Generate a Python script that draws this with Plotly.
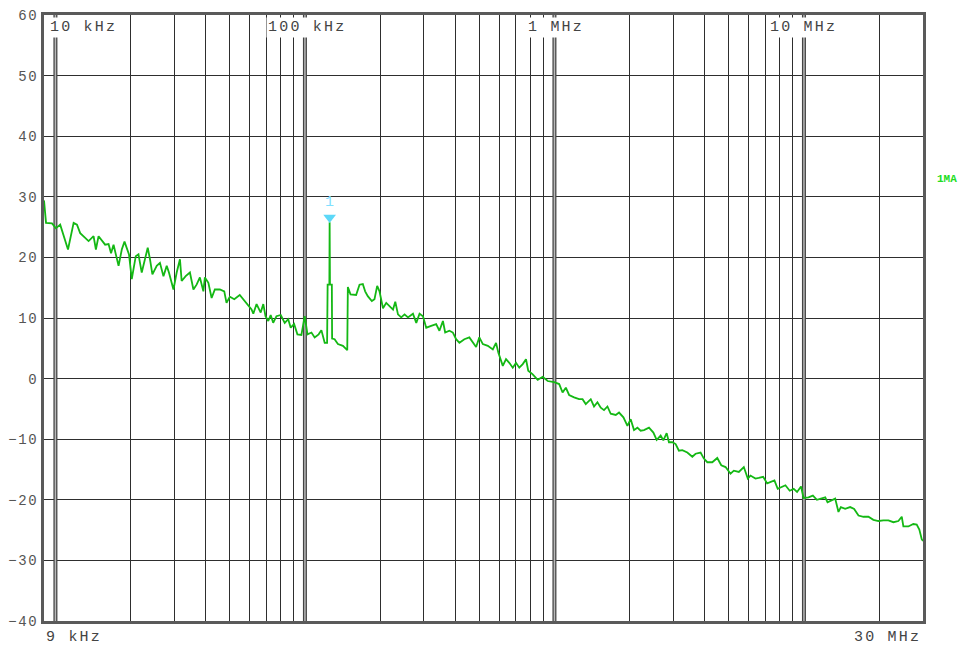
import math
import plotly.graph_objects as go

# ---------------- data ----------------
freq_khz = [
    9.0, 9.17, 9.69, 10.05, 10.45, 11.23, 11.83, 12.2, 12.57, 13.58,
    14.22, 14.53, 14.89, 15.82, 16.33, 16.71, 17.10, 17.91, 18.45, 18.92,
    19.72, 20.23, 20.99, 21.52, 22.18, 23.44, 23.93, 24.47, 25.47, 26.24,
    27.1, 27.93, 28.51, 29.72, 30.62, 31.56, 32.06, 33.27, 34.6, 35.73,
    36.8, 37.93, 39.17, 39.72, 41.02, 42.27, 43.55, 45.6, 47.5, 48.5,
    50.0, 52.1, 54.8, 57.4, 61.1, 62.1, 64.0, 66.5, 68.1, 69.5,
    71.3, 72.9, 74.6, 76.9, 80.0, 83.0, 85.7, 87.7, 90.5, 93.3,
    96.8, 99.8, 102.4, 106.2, 109.4, 113.5, 116.4, 120.0, 122.7, 123.3,
    125.3, 125.6, 126.0, 128.2, 128.5, 131.5, 135.6, 142.0, 147.8, 148.6,
    152.3, 160.4, 165.5, 170.6, 174.3, 178.6, 185.4, 190.0, 194.8, 199.0,
    205.5, 211.8, 218.3, 225.4, 230.2, 236.0, 243.2, 250.8, 258.8, 271.0,
    279.4, 288.0, 297.2, 306.3, 320.6, 335.7, 346.0, 357.3, 364.8, 379.3,
    391.7, 403.6, 416.0, 435.5, 456.0, 470.9, 485.3, 500.0, 516.4, 540.8,
    566.2, 583.4, 595.7, 620.9, 639.7, 659.2, 680.8, 701.5, 722.8, 746.4,
    769.1, 785.2, 818.4, 857.0, 897.4, 939.7, 997, 1045, 1078, 1111,
    1145, 1199, 1255, 1296, 1335, 1398, 1441, 1487, 1533, 1580,
    1631, 1681, 1761, 1815, 1890, 1961, 2021, 2084, 2150, 2216,
    2285, 2393, 2492, 2569, 2665, 2732, 2817, 2877, 2968, 3060,
    3154, 3255, 3408, 3569, 3679, 3852, 3972, 4099, 4291, 4494,
    4662, 4851, 5079, 5236, 5482, 5741, 5956, 6105, 6393, 6590,
    6863, 7120, 7340, 7615, 7850, 8175, 8427, 8767, 9096, 9385,
    9736, 9963, 10430, 10860, 11270, 11700, 12170, 12430, 12940, 13340,
    13750, 14060, 14630, 15320, 15890, 16540, 17320, 18130, 18980, 19880,
    20820, 21800, 22830, 23900, 24660, 25030, 26210, 27440, 28310, 29000,
    29650, 30000,
]
level_db = [
    29.4, 25.7, 25.6, 24.8, 25.4, 21.3, 25.7, 25.4, 24.0, 22.7,
    23.5, 21.3, 23.5, 22.1, 22.2, 20.7, 22.1, 18.6, 21.3, 22.6,
    20.5, 16.4, 20.2, 20.5, 17.5, 21.6, 19.7, 17.2, 18.6, 19.1,
    16.9, 18.6, 17.5, 14.7, 17.5, 19.7, 16.1, 16.9, 17.5, 14.7,
    15.5, 16.7, 14.4, 16.7, 15.8, 13.3, 14.7, 14.7, 14.4, 12.5,
    13.5, 13.1, 13.8, 12.8, 11.4, 10.7, 12.3, 10.9, 12.3, 10.3,
    9.5, 10.5, 9.2, 10.3, 10.5, 9.2, 9.8, 8.4, 9.0, 7.3,
    7.2, 10.3, 7.3, 7.6, 6.8, 7.3, 8.0, 5.9, 5.9, 15.5,
    15.5, 25.8, 15.5, 15.5, 6.6, 6.5, 5.7, 5.4, 4.7, 15.1,
    13.9, 13.8, 15.5, 15.6, 14.4, 13.6, 12.8, 13.1, 15.3, 14.4,
    11.6, 12.5, 12.0, 11.4, 12.7, 10.6, 10.1, 10.6, 10.1, 10.7,
    9.2, 10.7, 10.3, 8.4, 8.7, 9.0, 7.9, 9.5, 7.6, 7.9,
    7.6, 6.5, 5.9, 6.5, 6.8, 5.9, 5.2, 6.8, 5.7, 5.4,
    4.8, 5.9, 4.3, 2.1, 3.2, 2.6, 1.8, 2.6, 1.8, 2.4,
    3.2, 1.3, 0.7, -0.2, 0.3, -0.4, -0.6, -0.9, -2.3, -1.5,
    -2.7, -3.1, -3.4, -3.4, -4.2, -3.4, -4.6, -3.9, -4.8, -5.2,
    -4.6, -5.8, -6.0, -5.6, -6.4, -7.8, -6.7, -8.5, -8.1, -8.6,
    -8.5, -8.1, -8.9, -10.1, -9.4, -10.2, -9.0, -10.5, -10.5, -10.8,
    -11.9, -11.8, -12.2, -12.9, -12.4, -12.2, -13.2, -13.8, -13.8, -13.1,
    -14.3, -14.6, -15.7, -15.2, -15.4, -14.6, -16.5, -16.0, -16.5, -16.4,
    -16.2, -17.3, -17.1, -16.8, -18.2, -17.8, -17.6, -18.5, -18.2, -18.7,
    -17.8, -19.7, -19.6, -19.3, -20.0, -19.8, -19.6, -20.4, -20.1, -19.8,
    -22.0, -21.2, -21.5, -21.2, -21.5, -22.6, -22.8, -22.8, -23.3, -23.5,
    -23.4, -23.4, -23.7, -23.5, -22.8, -24.4, -24.4, -24.0, -24.1, -24.9,
    -26.5, -26.8,
]
assert len(freq_khz) == len(level_db)

marker_khz = 125.6
marker_db = 25.8
marker_label = "1"

f_start_hz = 9e3
f_stop_hz = 30e6
y_ticks = [60, 50, 40, 30, 20, 10, 0, -10, -20, -30, -40]
decades_hz = [1e4, 1e5, 1e6, 1e7]
decade_labels = ["10 kHz", "100 kHz", "1 MHz", "10 MHz"]
start_label = "9 kHz"
stop_label = "30 MHz"
trace_label = "1MA"

# ---------------- build ----------------
MONO = "Liberation Mono, Courier New, monospace"
TRACE_GREEN = "#14b814"
CYAN = "#5cd8f8"

freq_hz = [f * 1e3 for f in freq_khz]

minor_grid = []
for d in decades_hz:
    for m in range(2, 10):
        v = d * m
        if v < f_stop_hz:
            minor_grid.append(v)

def spaced(t, ls):
    return '<span style="letter-spacing:%spx">%s</span>' % (ls, t)

fig = go.Figure()

# decade double lines
dx, dy = [], []
for d in decades_hz:
    dx += [d, d, None]
    dy += [-40, 60, None]
fig.add_trace(go.Scatter(x=dx, y=dy, mode="lines",
                         line=dict(color="#444444", width=4),
                         hoverinfo="skip", showlegend=False))
fig.add_trace(go.Scatter(x=dx, y=dy, mode="lines",
                         line=dict(color="#b8b8b8", width=1.5),
                         hoverinfo="skip", showlegend=False))

# measurement trace
fig.add_trace(go.Scatter(x=freq_hz, y=level_db, mode="lines",
                         line=dict(color=TRACE_GREEN, width=1.8),
                         showlegend=False))

# marker
fig.add_trace(go.Scatter(x=[marker_khz * 1e3], y=[marker_db + 0.8],
                         mode="markers+text",
                         marker=dict(symbol="triangle-down", size=11, color=CYAN,
                                     line=dict(width=0)),
                         text=[marker_label], textposition="top center",
                         textfont=dict(family=MONO, size=15, color="#7fe0ff"),
                         showlegend=False))

annotations = []
shifts = [28, 2, 2, 0]
for d, lab, s in zip(decades_hz, decade_labels, shifts):
    annotations.append(dict(x=math.log10(d), xref="x", y=0.9786, yref="paper",
                            text=spaced(lab, 2.2), showarrow=False,
                            xanchor="center", yanchor="middle", xshift=s,
                            font=dict(family=MONO, size=15, color="#444"),
                            bgcolor="white", borderpad=1))
annotations.append(dict(x=0, xref="paper", y=-0.028, yref="paper",
                        text=spaced(start_label, 2.2), showarrow=False,
                        xanchor="left", yanchor="middle",
                        font=dict(family=MONO, size=15, color="#444")))
annotations.append(dict(x=1, xref="paper", y=-0.028, yref="paper",
                        text=spaced(stop_label, 2.2), showarrow=False,
                        xanchor="right", yanchor="middle",
                        font=dict(family=MONO, size=15, color="#444")))
annotations.append(dict(x=1.0275, xref="paper", y=0.7286, yref="paper",
                        text="<b>%s</b>" % trace_label, showarrow=False,
                        xanchor="center", yanchor="middle",
                        font=dict(family=MONO, size=11, color="#22dd22")))

fig.update_layout(
    width=964, height=650, autosize=False,
    margin=dict(l=36, r=41, t=8, b=29, pad=0),
    paper_bgcolor="white", plot_bgcolor="white",
    showlegend=False,
    annotations=annotations,
    xaxis=dict(type="log",
               range=[math.log10(f_start_hz), math.log10(f_stop_hz)],
               tickvals=minor_grid, showticklabels=False, ticks="",
               showgrid=True, gridcolor="#2e2e2e", gridwidth=1,
               zeroline=False, showline=True, linecolor="#5a5a5a",
               linewidth=3, mirror=True),
    yaxis=dict(range=[-40, 60], tickvals=y_ticks,
               ticktext=[spaced(("\u2212%d" % -v) if v < 0 else str(v), 1.6)
                         for v in y_ticks],
               ticks="", showgrid=True, gridcolor="#2e2e2e", gridwidth=1,
               zeroline=False, showline=True, linecolor="#5a5a5a",
               linewidth=3, mirror=True,
               tickfont=dict(family=MONO, size=14, color="#555")),
)

fig.write_html("out.html", config={"displayModeBar": False},
               post_script="document.body.style.margin='0';")
